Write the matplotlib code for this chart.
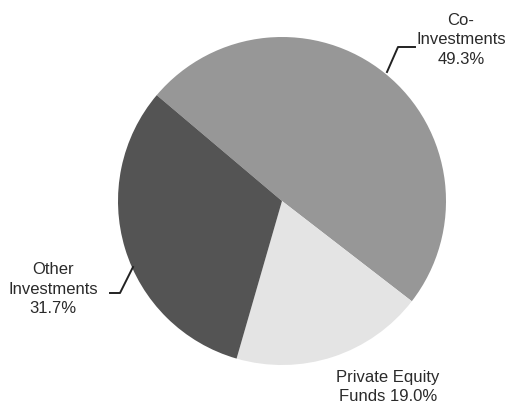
import matplotlib
matplotlib.use('Agg')
import matplotlib.pyplot as plt

labels = ['Co-\nInvestments\n49.3%', 'Private Equity\nFunds 19.0%', 'Other\nInvestments\n31.7%']
shares = [49.3, 19.0, 31.7]
colors = ['#979797', '#e4e4e4', '#545454']

plt.rcParams['font.family'] = ['Liberation Sans', 'DejaVu Sans']

W, H = 507, 407
fig = plt.figure(figsize=(W / 100, H / 100), dpi=100)
ax = fig.add_axes([0, 0, 1, 1])

# pie in pixel coords; y axis is flipped so counterclock=True runs clockwise on screen
ax.pie(shares, colors=colors, startangle=-139.8, counterclock=True,
       center=(282, 201), radius=164, frame=True,
       wedgeprops=dict(linewidth=0))
ax.set_xlim(0, W)
ax.set_ylim(H, 0)
ax.axis('off')

txt = dict(ha='center', va='center', fontsize=12, color='#2a2a2a', linespacing=1.35)
ax.text(461, 40, labels[0], **txt)
ax.text(388, 387, labels[1], **txt)
ax.text(53, 289, labels[2], **txt)

# leader lines
ax.plot([387, 398, 415], [72, 47, 47], color='#222222', lw=1.4)
ax.plot([133, 120, 110], [267, 293, 293], color='#222222', lw=1.4)

fig.savefig('out.png', dpi=100)
